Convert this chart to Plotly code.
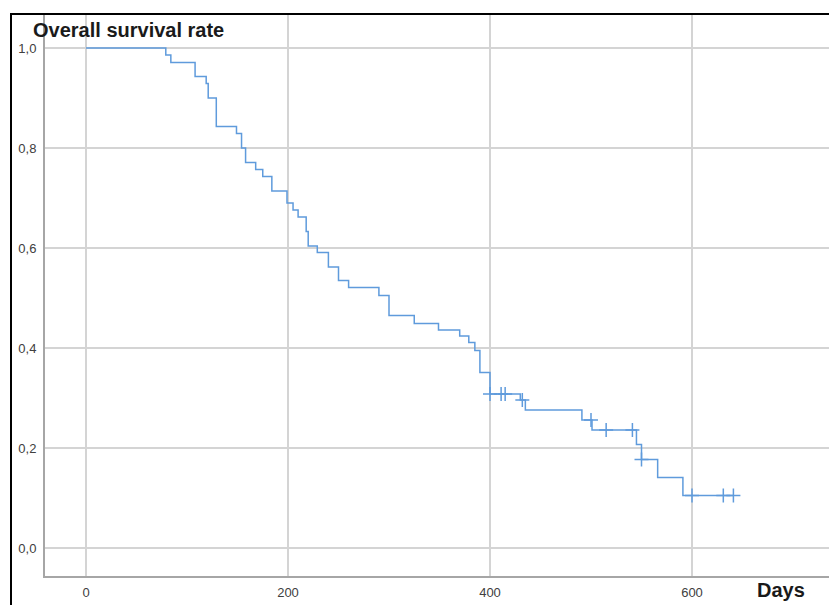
import plotly.graph_objects as go
import numpy as np

# Kaplan-Meier event times (days) and survival after each step
event_days = [0, 79, 84, 108, 119, 121, 129, 149, 154, 158, 168, 175, 184,
              199, 205, 210, 218, 220, 229, 240, 250, 260, 290, 300, 325,
              349, 370, 379, 385, 390, 400, 430, 435, 491, 501, 545, 550,
              566, 591]
survival = [1.0, 0.986, 0.971, 0.943, 0.929, 0.900, 0.843, 0.829, 0.800,
            0.771, 0.757, 0.743, 0.714, 0.690, 0.676, 0.662, 0.633, 0.604,
            0.591, 0.562, 0.535, 0.521, 0.505, 0.465, 0.449, 0.436, 0.424,
            0.411, 0.395, 0.351, 0.308, 0.296, 0.276, 0.256, 0.236, 0.207,
            0.177, 0.141, 0.105]
end_day = 641

# Censored observations (days)
censor_days = [400, 411, 415, 432, 500, 515, 541, 550, 600, 631, 641]

x_ticks = [0, 200, 400, 600]
x_tick_labels = ["0", "200", "400", "600"]
y_ticks = [0.0, 0.2, 0.4, 0.6, 0.8, 1.0]
y_tick_labels = ["0,0", "0,2", "0,4", "0,6", "0,8", "1,0"]

line_color = "#5f9bdc"

# step curve
xs = event_days + [end_day]
ys = survival + [survival[-1]]

def surv_at(t):
    idx = np.searchsorted(event_days, t, side="right") - 1
    return survival[idx]

censor_vals = [surv_at(t) for t in censor_days]

fig = go.Figure()
fig.add_trace(go.Scatter(x=xs, y=ys, mode="lines", line_shape="hv",
                         line=dict(color=line_color, width=1.5),
                         hoverinfo="skip", showlegend=False))
fig.add_trace(go.Scatter(x=censor_days, y=censor_vals, mode="markers",
                         marker=dict(symbol="cross-thin", size=10,
                                     line=dict(color=line_color, width=1.5)),
                         showlegend=False))

W, H = 829, 605
L, R, T, B = 45, 0, 14, 29
px_per_day = 1.01
x0_px = 86
y_per = 500.0
y0_px = 548

xr = [(L - x0_px) / px_per_day, (W - R - x0_px) / px_per_day]
yr = [(y0_px - (H - B)) / y_per, (y0_px - T) / y_per]

fig.update_layout(
    width=W, height=H,
    margin=dict(l=L, r=R, t=T, b=B, autoexpand=False),
    paper_bgcolor="white", plot_bgcolor="white",
    font=dict(family="Arial, Liberation Sans, sans-serif", size=13, color="#404040"),
    xaxis=dict(range=xr, tickvals=x_ticks, ticktext=x_tick_labels, automargin=False,
               showgrid=True, gridcolor="#d4d4d4", gridwidth=2,
               zeroline=False, showline=True, linecolor="#a6a6a6", linewidth=2,
               ticks="", ticklabelstandoff=3, tickfont=dict(size=13, color="#404040")),
    yaxis=dict(range=yr, tickvals=y_ticks, ticktext=y_tick_labels, automargin=False,
               showgrid=True, gridcolor="#d4d4d4", gridwidth=2,
               zeroline=False, showline=True, linecolor="#a6a6a6", linewidth=2,
               ticks="", ticklabelstandoff=4, tickfont=dict(size=13, color="#404040")),
)

pw = W - L - R
ph = H - T - B
def px_x(p):
    return (p - L) / pw
def px_y(p):
    return (H - B - p) / ph

fig.add_annotation(text="<b>Overall survival rate</b>", xref="paper", yref="paper",
                   x=px_x(31), y=px_y(30), xanchor="left", yanchor="middle",
                   showarrow=False, font=dict(size=20, color="#1a1a1a"))
fig.add_annotation(text="<b>Days</b>", xref="paper", yref="paper",
                   x=px_x(755), y=px_y(590), xanchor="left", yanchor="middle",
                   showarrow=False, font=dict(size=20, color="#1a1a1a"))

# outer frame (extends beyond the image on right/bottom)
fig.add_shape(type="rect", xref="paper", yref="paper",
              x0=px_x(11), x1=px_x(W + 20), y0=px_y(H + 20), y1=px_y(14),
              line=dict(color="black", width=2), fillcolor="rgba(0,0,0,0)",
              layer="above")

fig.write_html("out.html", config={"displayModeBar": False},
               post_script="document.body.style.margin='0';document.body.style.overflow='hidden';")
